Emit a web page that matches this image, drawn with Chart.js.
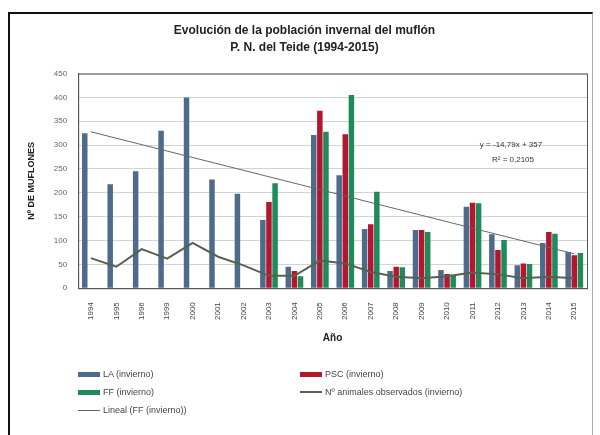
<!DOCTYPE html>
<html>
<head>
<meta charset="utf-8">
<script src="https://cdn.jsdelivr.net/npm/chart.js@4"></script>
<style>
  html, body { margin: 0; padding: 0; background: #fff; }
  #wrap { position: relative; width: 600px; height: 435px; }
  #marco {
    position: absolute; left: 8px; top: 12px; width: 582px; height: 430px;
    border-left: 2px solid #111; border-top: 2px solid #111; border-right: 1px solid #aaa;
    pointer-events: none;
  }
  #leyenda {
    position: absolute; left: 78px; top: 369px; width: 500px;
    font-family: "Liberation Sans", Arial, sans-serif; font-size: 9px; color: #444;
  }
  .item { position: absolute; display: flex; align-items: center; white-space: nowrap; }
  .sw { display: inline-block; width: 22px; margin-right: 3px; }
</style>
</head>
<body>
<div id="wrap">
  <canvas id="grafico" width="600" height="435"></canvas>
  <div id="marco"></div>
  <div id="leyenda"></div>
</div>
<script>
// Censo invernal del muflón, P. N. del Teide
const anios = ["1994", "1995", "1996", "1999", "2000", "2001", "2002", "2003", "2004", "2005",
    "2006", "2007", "2008", "2009", "2010", "2011", "2012", "2013", "2014", "2015"];

const la = [325, 218, 245, 330, 400, 228, 198, 143, 45, 321, 237, 124, 36, 122, 38, 171, 113, 48, 95, 76];
const psc = [null, null, null, null, null, null, null, 181, 36, 372, 323, 134, 45, 122, 30, 179, 80, 52, 118, 69];
const ff = [null, null, null, null, null, null, null, 220, 25, 328, 405, 202, 44, 118, 28, 178, 101, 51, 114, 74];
const observados = [63, 45, 82, 62, 95, 66, 48, 26, 26, 58, 52, 34, 24, 21, 25, 33, 29, 21, 24, 21];
// línea de tendencia: sólo extremos, el resto se une con spanGaps
const tendencia = [328, null, null, null, null, null, null, null, null, null,
    null, null, null, null, null, null, null, null, null, 72];

const ecuacion = ["y = -14,79x + 357", "R² = 0,2105"];

const fuente = "'Liberation Sans', Arial, sans-serif";

// marco del área de trazado + texto de la ecuación
const marcoPlugin = {
    id: "marcoArea",
    afterDraw(chart) {
        const { ctx, chartArea: a } = chart;
        ctx.save();
        ctx.strokeStyle = "#555";
        ctx.lineWidth = 1;
        ctx.strokeRect(a.left + 0.5, a.top + 0.5, a.right - a.left, a.bottom - a.top);
        ctx.fillStyle = "#333";
        ctx.font = "8px " + fuente;
        ctx.textAlign = "center";
        const cx = a.right - 76;
        ctx.fillText(ecuacion[0], cx, a.top + 73);
        ctx.fillText(ecuacion[1], cx + 2, a.top + 88);
        ctx.restore();
    },
};

const datasets = [
    {
        type: "line",
        label: "Nº animales observados (invierno)",
        data: observados,
        borderColor: "#55624f",
        backgroundColor: "#55624f",
        borderWidth: 2,
        pointRadius: 0,
        tension: 0,
        order: 1,
    },
    {
        type: "line",
        label: "Lineal (FF (invierno))",
        data: tendencia,
        borderColor: "#666",
        backgroundColor: "#666",
        borderWidth: 1,
        pointRadius: 0,
        spanGaps: true,
        order: 0,
    },
    {
        type: "bar",
        label: "LA (invierno)",
        data: la,
        backgroundColor: "#4e6b8c",
        order: 2,
    },
    {
        type: "bar",
        label: "PSC (invierno)",
        data: psc,
        backgroundColor: "#b3172f",
        order: 2,
    },
    {
        type: "bar",
        label: "FF (invierno)",
        data: ff,
        backgroundColor: "#1f8a5a",
        order: 2,
    },
];

new Chart(document.getElementById("grafico"), {
    data: { labels: anios, datasets },
    options: {
        responsive: false,
        animation: false,
        layout: { padding: { left: 22, right: 13, top: 4, bottom: 87 } },
        datasets: { bar: { categoryPercentage: 0.72, barPercentage: 0.9 } },
        plugins: {
            legend: { display: false },
            tooltip: { enabled: false },
            title: {
                display: true,
                text: ["Evolución de la población invernal del muflón", "P. N. del Teide (1994-2015)"],
                color: "#222",
                font: { family: fuente, size: 12, weight: "bold", lineHeight: 1.4 },
                padding: { top: 18, bottom: 18 },
            },
        },
        scales: {
            x: {
                grid: { display: false },
                border: { color: "#555" },
                ticks: {
                    color: "#444",
                    font: { family: fuente, size: 8 },
                    minRotation: 90,
                    maxRotation: 90,
                    padding: 6,
                },
                title: {
                    display: true,
                    text: "Año",
                    color: "#222",
                    font: { family: fuente, size: 10, weight: "bold" },
                    padding: { top: 6 },
                },
            },
            y: {
                min: 0,
                max: 450,
                grid: { color: "#d4d4d4", drawTicks: false },
                border: { color: "#555" },
                ticks: {
                    stepSize: 50,
                    color: "#666",
                    font: { family: fuente, size: 8 },
                    padding: 11,
                },
                title: {
                    display: true,
                    text: "Nº DE MUFLONES",
                    color: "#222",
                    font: { family: fuente, size: 9, weight: "bold" },
                    padding: { bottom: 6 },
                },
            },
        },
    },
    plugins: [marcoPlugin],
});

// leyenda en dos columnas como en la hoja original
const orden = [
    ["LA (invierno)", 0, 0], ["PSC (invierno)", 1, 0],
    ["FF (invierno)", 0, 1], ["Nº animales observados (invierno)", 1, 1],
    ["Lineal (FF (invierno))", 0, 2],
];
const leyenda = document.getElementById("leyenda");
for (const [nombre, col, fila] of orden) {
    const ds = datasets.find((d) => d.label === nombre);
    const item = document.createElement("div");
    item.className = "item";
    item.style.left = (col * 222) + "px";
    item.style.top = (fila * 18) + "px";
    const sw = document.createElement("span");
    sw.className = "sw";
    if (ds.type === "bar") {
        sw.style.height = "5px";
        sw.style.background = ds.backgroundColor;
    } else {
        sw.style.height = ds.borderWidth + "px";
        sw.style.background = ds.borderColor;
    }
    item.appendChild(sw);
    item.appendChild(document.createTextNode(nombre));
    leyenda.appendChild(item);
}
</script>
</body>
</html>
